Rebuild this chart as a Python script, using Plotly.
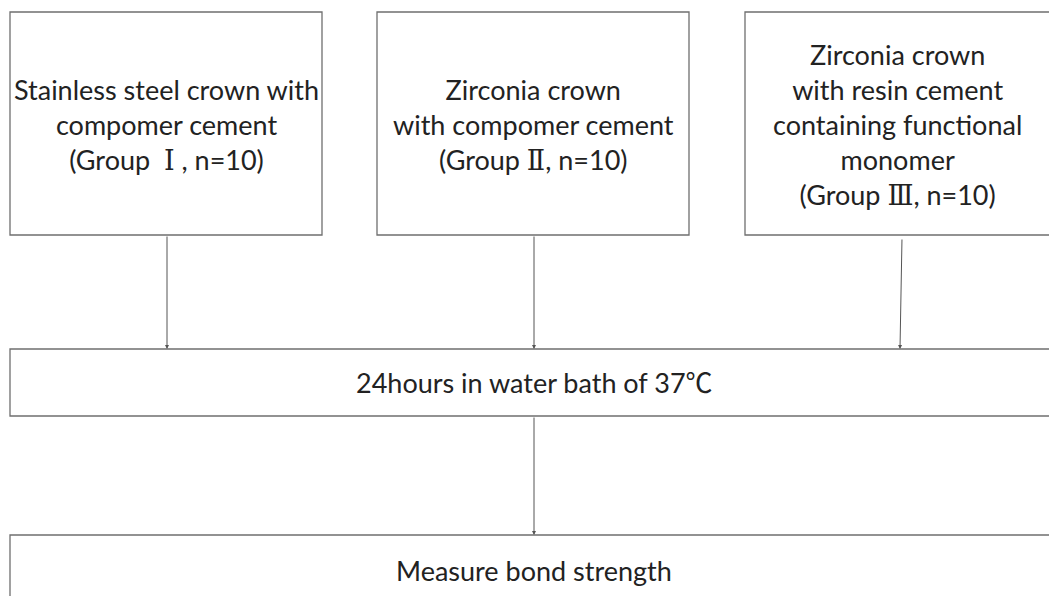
import plotly.graph_objects as go

# ---- content ----
NUM = "<span style=\"font-family:DejaVu Serif\">{}</span>"
group_labels = [
    "Stainless steel crown with<br>compomer cement<br>(Group  " + NUM.format("\u2160") + " , n=10)",
    "Zirconia crown<br>with compomer cement<br>(Group " + NUM.format("\u2161") + ", n=10)",
    "Zirconia crown<br>with resin cement<br>containing functional<br>monomer<br>(Group "
    + NUM.format("\u2162") + ", n=10)",
]
step_labels = ["24hours in water bath of 37\u2103", "Measure bond strength"]

# ---- layout geometry (pixels) ----
W, H = 1049, 596
group_boxes = [(10, 12, 322, 235), (377, 12, 689, 235), (745, 12, 1052, 235)]
step_boxes = [(10, 349, 1052, 416), (10, 535, 1052, 620)]
arrows = [((167, 235), (167, 349)), ((534, 235), (534, 349)),
          ((902, 238), (900, 349)), ((534, 416), (534, 535))]

FONT = "Lato, 'Noto Sans CJK SC', sans-serif"
TXT = "#222222"
EDGE = "#6f6f6f"
FS = 27

fig = go.Figure()
shapes = []
annotations = []
for (x0, y0, x1, y1), lab in zip(group_boxes, group_labels):
    shapes.append(dict(type="rect", x0=x0, y0=y0, x1=x1, y1=y1, xref="x", yref="y",
                       line=dict(color=EDGE, width=1.3), fillcolor="white", layer="below"))
    annotations.append(dict(x=(x0 + min(x1, W)) / 2, y=(y0 + y1) / 2 + 1, xref="x", yref="y",
                            text=lab, showarrow=False, font=dict(family=FONT, size=FS, color=TXT),
                            align="center", xanchor="center", yanchor="middle"))
for (x0, y0, x1, y1), lab in zip(step_boxes, step_labels):
    shapes.append(dict(type="rect", x0=x0, y0=y0, x1=x1, y1=y1, xref="x", yref="y",
                       line=dict(color=EDGE, width=1.3), fillcolor="white", layer="below"))
annotations.append(dict(x=534, y=382, xref="x", yref="y", text=step_labels[0], showarrow=False,
                        font=dict(family=FONT, size=FS, color=TXT), xanchor="center", yanchor="middle"))
annotations.append(dict(x=534, y=570, xref="x", yref="y", text=step_labels[1], showarrow=False,
                        font=dict(family=FONT, size=FS, color=TXT), xanchor="center", yanchor="middle"))

for (sx, sy), (ex, ey) in arrows:
    annotations.append(dict(x=ex, y=ey, ax=sx, ay=sy, xref="x", yref="y", axref="x", ayref="y",
                            text="", showarrow=True, arrowhead=2, arrowsize=0.8, arrowwidth=1,
                            arrowcolor="#555555", standoff=0, startstandoff=0))

fig.update_layout(
    width=W, height=H, margin=dict(l=0, r=0, t=0, b=0),
    paper_bgcolor="white", plot_bgcolor="white",
    xaxis=dict(range=[0, W], visible=False, fixedrange=True),
    yaxis=dict(range=[H, 0], visible=False, fixedrange=True),
    shapes=shapes, annotations=annotations, showlegend=False,
)
fig.write_html("out.html", config={"displayModeBar": False},
               post_script="document.body.style.margin='0';document.body.style.overflow='hidden';")
